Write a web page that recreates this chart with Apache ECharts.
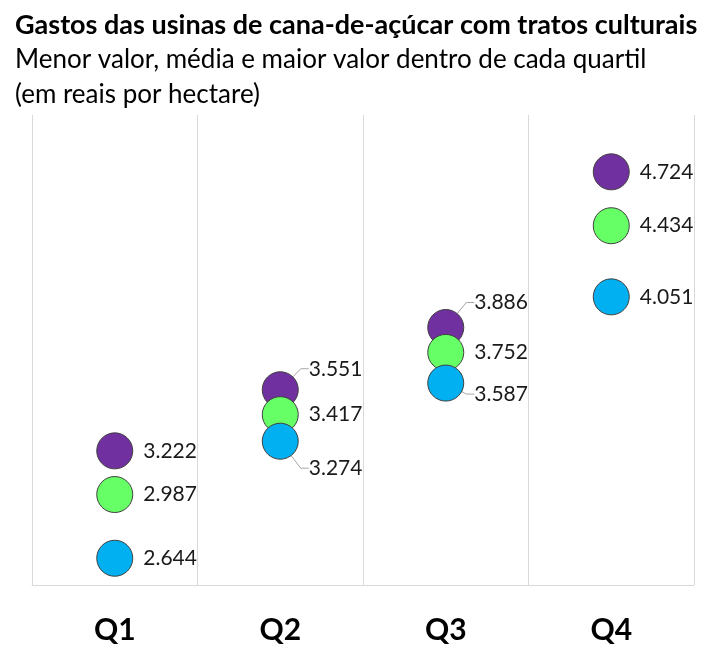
<!DOCTYPE html>
<html>
<head>
<meta charset="utf-8">
<script src="https://cdn.jsdelivr.net/npm/echarts@6/dist/echarts.min.js"></script>
<style>
  html, body { margin: 0; padding: 0; background: #fff; }
  #main { width: 723px; height: 664px; }
</style>
</head>
<body>
<div id="main"></div>
<script>
const categories = ['Q1', 'Q2', 'Q3', 'Q4'];
const maiorValor = [3222, 3551, 3886, 4724];
const media = [2987, 3417, 3752, 4434];
const menorValor = [2644, 3274, 3587, 4051];

// deslocamento vertical dos rótulos que se sobrepõem (Q2 e Q3)
const labelShift = {
    maior: [0, -21, -25, 0],
    media: [0, 0, 0, 0],
    menor: [0, 27, 11, 0]
};

const fontFamily = 'Lato, "Open Sans", sans-serif';

const formatBR = (v) => String(v).replace(/\B(?=(\d{3})+(?!\d))/g, '.');

const makeSeries = (name, values, color, shifts) => ({
    name: name,
    type: 'scatter',
    symbol: 'circle',
    symbolSize: 36,
    itemStyle: { color: color, borderColor: '#404040', borderWidth: 1, opacity: 1 },
    label: {
        show: true,
        position: 'right',
        distance: 10,
        fontFamily: fontFamily,
        fontSize: 21,
        color: '#1a1a1a',
        formatter: (p) => formatBR(p.value)
    },
    labelLayout: (p) => ({ dy: shifts[p.dataIndex] }),
    data: values.map((v, i) => ({
        value: v,
        labelLine: {
            show: shifts[i] !== 0,
            length2: 8,
            lineStyle: { color: '#a6a6a6', width: 1 }
        }
    })),
    emphasis: { disabled: true },
    animation: false
});

const chart = echarts.init(document.getElementById('main'));

chart.setOption({
    backgroundColor: '#fff',
    title: {
        left: 15,
        top: 10,
        padding: 0,
        text: 'Gastos das usinas de cana-de-açúcar com tratos culturais',
        textStyle: { fontFamily: fontFamily, fontSize: 27, fontWeight: 'bold', color: '#000', lineHeight: 30 },
        subtext: 'Menor valor, média e maior valor dentro de cada quartil\n(em reais por hectare)',
        subtextStyle: { fontFamily: fontFamily, fontSize: 26, color: '#000', lineHeight: 35 },
        itemGap: 2
    },
    grid: { left: 32, right: 29, top: 115, bottom: 79 },
    xAxis: {
        type: 'category',
        data: categories,
        boundaryGap: true,
        axisLine: { show: true, lineStyle: { color: '#d9d9d9', width: 1 } },
        axisTick: { show: false },
        splitLine: { show: true, lineStyle: { color: '#d9d9d9', width: 1 } },
        axisLabel: { margin: 30, fontFamily: fontFamily, fontSize: 30, fontWeight: 'bold', color: '#000' }
    },
    yAxis: {
        type: 'value',
        min: 2500,
        max: 5030,
        show: false,
        splitLine: { show: false }
    },
    series: [
        makeSeries('Maior valor', maiorValor, '#7030A0', labelShift.maior),
        makeSeries('Média', media, '#66FF66', labelShift.media),
        makeSeries('Menor valor', menorValor, '#00B0F0', labelShift.menor)
    ]
});
</script>
</body>
</html>
